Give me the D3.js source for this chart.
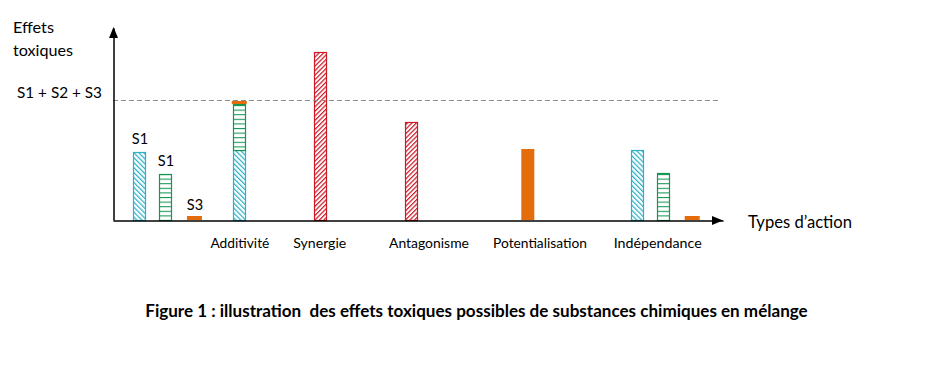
<!DOCTYPE html>
<html>
<head>
<meta charset="utf-8">
<script src="https://cdn.jsdelivr.net/npm/d3@7"></script>
<style>
  html, body { margin: 0; padding: 0; background: #fff; }
  svg { display: block; font-family: Lato, "Open Sans", sans-serif; }
</style>
</head>
<body>
<svg id="chart" width="928" height="368"></svg>
<script>
// ---- data ----
const groups      = ["Substances", "Additivité", "Synergie", "Antagonisme", "Potentialisation", "Indépendance"];
const groupLabels = ["", "Additivité", "Synergie", "Antagonisme", "Potentialisation", "Indépendance"];
const groupSlot   = [8.6, 20.7, 33.9, 48.8, 68.0, 90.2];   // position on the action axis (0–100)
const labelSlot   = [null, 20.8, 33.9, 51.8, 70.0, 89.3];
const seriesS1    = [68, 70, null, null, null, 70];
const seriesS2    = [46, 46, null, null, null, 47];
const seriesS3    = [4, 3, null, null, 71, 4];
const seriesMix   = [null, null, 168, 98, null, null];
const stacked     = [false, true, false, false, false, false];
const barLabels   = ["S1", "S1", "S3"];                    // labels over the single substances
const sumLevel    = 120;                                   // S1 + S2 + S3
const sumLabel    = "S1 + S2 + S3";
const yTitle      = ["Effets", "toxiques"];
const xTitle      = "Types d’action";
const caption     = "Figure 1 : illustration\u00a0 des effets toxiques possibles de substances chimiques en mélange";

// ---- styles ----
const C = { s1: "#2fb0c6", s2: "#149553", s3: "#e46c0a", mix: "#cc1a26", axis: "#000", dash: "#8c8c8c" };

const svg = d3.select("#chart");
const x = d3.scaleLinear().domain([0, 100]).range([113, 723]);
const y = d3.scaleLinear().domain([0, 192]).range([220, 28]);

// patterns
const defs = svg.append("defs");
function hatch(id, color, angle, step) {
  const p = defs.append("pattern").attr("id", id).attr("patternUnits", "userSpaceOnUse")
    .attr("width", step).attr("height", step).attr("patternTransform", `rotate(${angle})`);
  p.append("rect").attr("width", step).attr("height", step).attr("fill", "#fff");
  p.append("line").attr("x1", 0.6).attr("y1", 0).attr("x2", 0.6).attr("y2", step)
    .attr("stroke", color).attr("stroke-width", 1.25);
}
hatch("hS1", C.s1, -45, 3.5);
hatch("hMix", C.mix, 45, 3.2);
(function () {
  const step = 4.6;
  const p = defs.append("pattern").attr("id", "hS2").attr("patternUnits", "userSpaceOnUse")
    .attr("width", 10).attr("height", step).attr("y", y(0));
  p.append("rect").attr("width", 10).attr("height", step).attr("fill", "#fff");
  p.append("line").attr("x1", 0).attr("x2", 10).attr("y1", 0.5).attr("y2", 0.5)
    .attr("stroke", C.s2).attr("stroke-width", 1.1);
})();

// ---- bars ----
const hatchW = 12, s3W = 15, soloW = 13;
const offsets = { s1: -26, s2: 0, s3: 29 };
const bars = [];
groups.forEach((g, i) => {
  const cx = x(groupSlot[i]);
  if (stacked[i]) {
    let base = 0;
    [["s1", seriesS1[i]], ["s2", seriesS2[i]], ["s3", seriesS3[i]]].forEach(([k, v]) => {
      bars.push({ k, cx, y0: base, y1: base + v, w: k === "s3" ? s3W : hatchW, stacked: true });
      base += v;
    });
  } else {
    const present = [["s1", seriesS1[i]], ["s2", seriesS2[i]], ["s3", seriesS3[i]]].filter(d => d[1] != null);
    if (seriesMix[i] != null) bars.push({ k: "mix", cx, y0: 0, y1: seriesMix[i], w: hatchW });
    present.forEach(([k, v]) => {
      const solo = present.length === 1;
      bars.push({ k, cx: solo ? cx : cx + offsets[k], y0: 0, y1: v, w: k === "s3" ? (solo ? soloW : s3W) : hatchW, group: i });
    });
  }
});

const fillOf = { s1: "url(#hS1)", s2: "url(#hS2)", mix: "url(#hMix)", s3: C.s3 };
svg.append("g").selectAll("rect").data(bars).join("rect")
  .attr("x", d => d.k === "s3" ? d.cx - d.w / 2 : Math.round(d.cx - d.w / 2) + 0.5)
  .attr("y", d => d.k === "s3" ? y(d.y1) : Math.round(y(d.y1)) + 0.5)
  .attr("width", d => d.w)
  .attr("height", d => d.k === "s3" ? y(d.y0) - y(d.y1) : Math.round(y(d.y0)) - Math.round(y(d.y1)))
  .attr("fill", d => fillOf[d.k])
  .attr("stroke", d => d.k === "s3" ? "none" : C[d.k])
  .attr("stroke-width", 1.2);

// dashed sum line
svg.append("line")
  .attr("x1", x(0)).attr("x2", x(100) - 3)
  .attr("y1", Math.round(y(sumLevel)) + 0.5).attr("y2", Math.round(y(sumLevel)) + 0.5)
  .attr("stroke", C.dash).attr("stroke-width", 1).attr("stroke-dasharray", "5,3");

// ---- axes ----
const xAxis = d3.axisBottom(x).tickValues([]).tickSizeOuter(0);
const yAxis = d3.axisLeft(y).tickValues([]).tickSizeOuter(0);
const gx = svg.append("g").attr("transform", `translate(0,${y(0) + 0.5})`).call(xAxis);
const gy = svg.append("g").attr("transform", `translate(${x(0) + 0.5},0)`).call(yAxis);
gx.select(".domain").attr("stroke", C.axis).attr("stroke-width", 1.5);
gy.select(".domain").attr("stroke", C.axis).attr("stroke-width", 1.5);
// arrow heads
const [xr0, xr1] = x.range();
const [yr0, yr1] = y.range();
svg.append("path").attr("d", `M${xr1},${y(0) + 0.5} l-11,-4.5 v9 z`).attr("fill", C.axis);
svg.append("path").attr("d", `M${x(0) + 0.5},${yr1 - 1} l-4.5,11 h9 z`).attr("fill", C.axis);

// ---- texts ----
function fit(sel, target) {
  const n = sel.node();
  const fs = parseFloat(sel.attr("font-size"));
  const w = n.getComputedTextLength();
  sel.attr("font-size", (fs * target / w).toFixed(2));
  return sel;
}
const txt = (t, px, py, fs, anchor) => svg.append("text").text(t).attr("x", px).attr("y", py)
  .attr("font-size", fs).attr("text-anchor", anchor || "start").attr("fill", "#000");

fit(txt(yTitle[0], 13, 33, 15), 41);
fit(txt(yTitle[1], 13, 56, 15), 60);
fit(txt(sumLabel, 17, 98, 15), 85);
fit(txt(xTitle, 748, 228, 15), 104);

// labels above the single-substance bars (first group)
bars.filter(d => d.group === 0).forEach((d, j) => {
  txt(barLabels[j], d.cx + 0.5, y(d.y1) - (j === 2 ? 6 : 8.5), 14.5, "middle");
});

// category labels
const catW = [0, 59, 53, 80, 94, 88];
groupLabels.forEach((l, i) => {
  if (!l) return;
  fit(txt(l, x(labelSlot[i]), 248, 12, "middle"), catW[i]);
});

// caption
fit(txt(caption, 476.5, 317, 13, "middle").attr("font-weight", "bold"), 663);
</script>
</body>
</html>
